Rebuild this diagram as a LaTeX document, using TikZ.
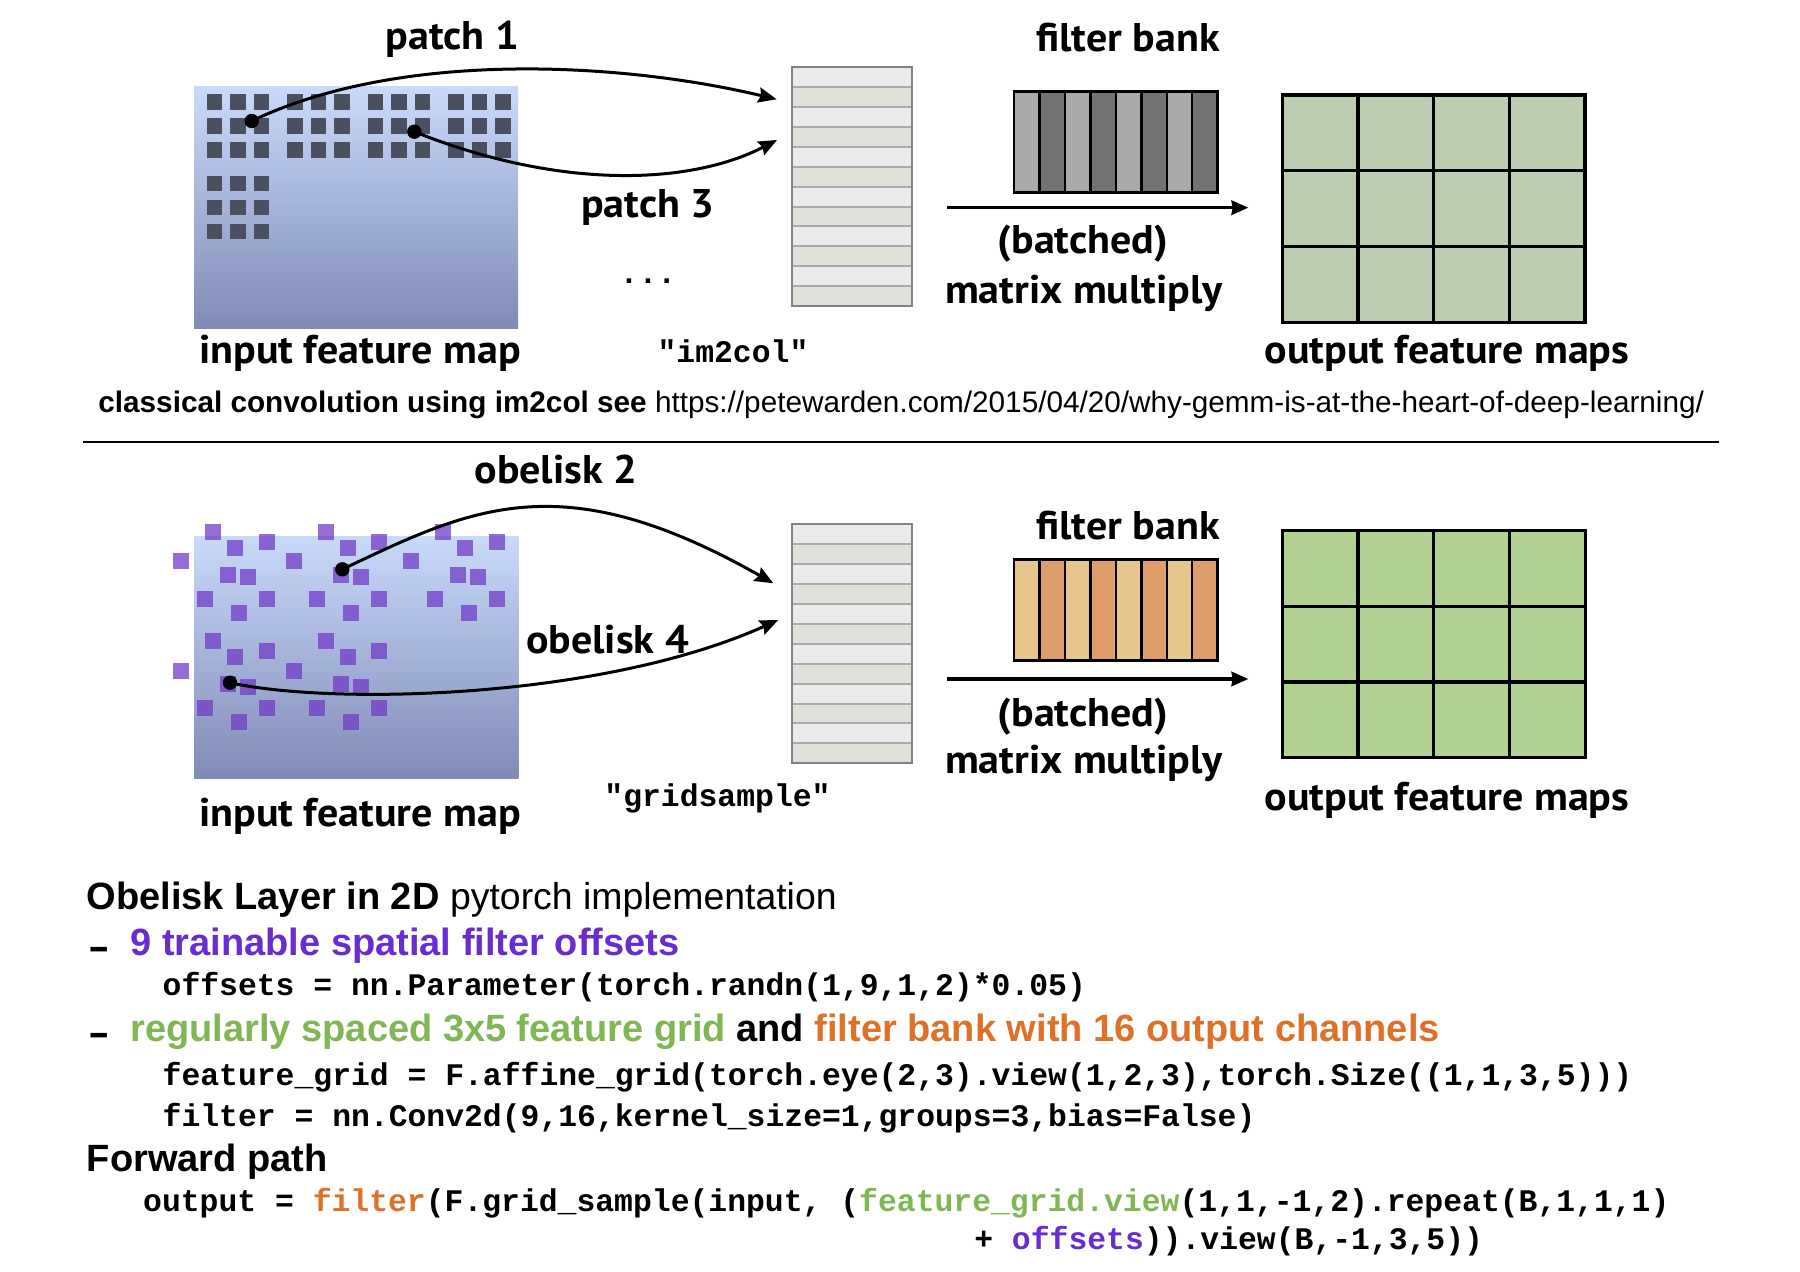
\documentclass[tikz,border=0pt]{standalone}
\usepackage{fontspec}
\usetikzlibrary{arrows.meta}
\newfontfamily\ptsans[FakeStretch=1.05]{PT Sans}
\newfontfamily\libsans{Liberation Sans}
\newfontfamily\libmono{Liberation Mono}
\newcommand\lblfont{\ptsans\bfseries\fontsize{10}{12}\selectfont}
\newcommand\codefont{\libmono\bfseries\fontsize{7.85}{9}\selectfont}
\newcommand\headfont{\libsans\fontsize{9.5}{11}\selectfont}
\newcommand\notefont{\libsans\fontsize{7.43}{9}\selectfont}
\definecolor{sqdark}{RGB}{74,80,96}
\definecolor{mapTop}{RGB}{200,218,250}
\definecolor{mapBot}{RGB}{128,138,182}
\definecolor{purpsq}{RGB}{115,60,200}
\definecolor{rowA}{RGB}{234,234,234}
\definecolor{rowB}{RGB}{224,224,218}
\definecolor{rowLine}{RGB}{170,170,170}
\definecolor{colBorder}{RGB}{130,130,130}
\definecolor{fgA}{RGB}{170,170,170}
\definecolor{fgB}{RGB}{115,115,115}
\definecolor{foA}{RGB}{230,198,140}
\definecolor{foB}{RGB}{224,157,108}
\definecolor{outTop}{RGB}{188,205,178}
\definecolor{outBot}{RGB}{178,208,146}
\definecolor{txtPurple}{RGB}{104,44,208}
\definecolor{txtGreen}{RGB}{128,182,84}
\definecolor{txtOrange}{RGB}{222,112,40}
\begin{document}
\begin{tikzpicture}[x=0.25pt,y=-0.25pt,
  lbl/.style={font=\lblfont,inner sep=0pt,anchor=base},
  codetxt/.style={font=\codefont,inner sep=0pt,anchor=base west},
  codemid/.style={font=\codefont,inner sep=0pt,anchor=base},
  headtxt/.style={font=\headfont,inner sep=0pt,anchor=base west},
  notetxt/.style={font=\notefont,inner sep=0pt,anchor=base west},
  dotnode/.style={circle,fill=black,inner sep=0pt,minimum size=3.6pt},
  curvearrow/.style={line width=0.75pt,-{Stealth[length=4.6pt,width=3.8pt,inset=0.6pt]}},
  mularrow/.style={line width=0.8pt,-{Stealth[length=4.2pt,width=3.6pt,inset=0.3pt]}},
  purpbox/.style={fill=purpsq,fill opacity=0.75},
  gridline/.style={line width=0.8pt,draw=black}
]
\useasboundingbox (0,0) rectangle (1800,1272);
\fill[white] (0,0) rectangle (1800,1272);

% ================= TOP SECTION =================
% input feature map
\shade[top color=mapTop,bottom color=mapBot] (194,87) rectangle (518,329);
\foreach \g in {0,1,2,3}
  \foreach \i in {0,1,2}
    \foreach \j in {0,1,2}
      \fill[sqdark] ({206.7+80.5*\g+23.4*\i},{94.3+24*\j}) rectangle ++(15.5,15.5);
\foreach \i in {0,1,2}
  \foreach \j in {0,1,2}
    \fill[sqdark] ({206.7+23.4*\i},{176+24*\j}) rectangle ++(15.5,15.5);

% im2col column
\foreach \k in {0,...,11}{
  \pgfmathsetmacro\yy{67.3+19.89*\k}
  \ifodd\k \fill[rowB] (792.3,\yy) rectangle ++(119.4,19.89);
  \else \fill[rowA] (792.3,\yy) rectangle ++(119.4,19.89); \fi
}
\foreach \k in {1,...,11}
  \draw[rowLine,line width=0.5pt] (792.3,{67.3+19.89*\k}) -- ++(119.4,0);
\draw[colBorder,line width=0.55pt] (792.3,67.3) rectangle (911.7,306);

% filter bank (gray)
\foreach \k in {0,...,7}{
  \ifodd\k \fill[fgB] ({1014+25.46*\k},91.7) rectangle ++(25.46,101);
  \else \fill[fgA] ({1014+25.46*\k},91.7) rectangle ++(25.46,101); \fi
}
\foreach \k in {1,...,7}
  \draw[line width=0.6pt] ({1014+25.46*\k},91.7) -- ++(0,101);
\draw[line width=0.7pt] (1014,91.7) rectangle (1217.7,192.7);

% output feature maps (top)
\fill[outTop] (1282.3,95) rectangle (1585,322.7);
\foreach \k in {1,2,3}
  \draw[gridline] ({1282.3+75.68*\k},95) -- ++(0,227.7);
\foreach \k in {1,2}
  \draw[gridline] (1282.3,{95+75.9*\k}) -- ++(302.7,0);
\draw[gridline] (1282.3,95) rectangle (1585,322.7);

% connectors (top)
\node[dotnode] (d1) at (251.7,121) {};
\node[dotnode] (d3) at (414.3,131.7) {};
\coordinate (t1) at (776.7,99.3);
\coordinate (t3) at (777,140);
\draw[curvearrow] (d1.center) .. controls (400,50) and (620,62) .. (t1);
\draw[curvearrow] (d3.center) .. controls (560,190) and (690,185) .. (t3);
\coordinate (m1s) at (946.7,207.7);
\coordinate (m1e) at (1248.3,207.7);
\draw[mularrow] (m1s) -- (m1e);

% labels (top)
\node[lbl] (lp1) at (452.5,50) {patch 1};
\node[lbl] (lp3) at (648,217.3) {patch 3};
\node[codemid] (ldots) at (648,284) {...};
\node[codemid] (lim2col) at (733,362.7) {"im2col"};
\node[lbl] (lfb1) at (1128,51.7) {filter bank};
\node[lbl] (lba1) at (1083,253.3) {(batched)};
\node[lbl] (lmm1) at (1084,303.3) {matrix multiply};
\node[lbl] (lin1) at (360,364) {input feature map};
\node[lbl] (lout1) at (1447,364) {output feature maps};
\node[notetxt] (note) at (97.6,413) {\bfseries classical convolution using im2col see \mdseries https://petewarden.com/2015/04/20/why-gemm-is-at-the-heart-of-deep-learning/};

% separator
\coordinate (sepL) at (82.7,442);
\coordinate (sepR) at (1718.6,442);
\draw[line width=0.6pt] (sepL) -- (sepR);

% ================= BOTTOM SECTION =================
\shade[top color=mapTop,bottom color=mapBot] (194.3,536.7) rectangle (518.3,779);
\foreach \ox/\oy in {205/524, 317.7/524, 435/524, 205/633.3, 317.7/633.3}
  \foreach \px/\py in {0/0, 22.3/16, 53.7/10, -31.7/29.3, 15/42.7, 35/45.3, -8.3/66.7, 53.7/66.7, 25.7/81}
    \fill[purpbox] ({\ox+\px},{\oy+\py}) rectangle ++(16,16);

% gridsample column
\foreach \k in {0,...,11}{
  \pgfmathsetmacro\yy{524.3+19.92*\k}
  \ifodd\k \fill[rowB] (792.3,\yy) rectangle ++(119.4,19.92);
  \else \fill[rowA] (792.3,\yy) rectangle ++(119.4,19.92); \fi
}
\foreach \k in {1,...,11}
  \draw[rowLine,line width=0.5pt] (792.3,{524.3+19.92*\k}) -- ++(119.4,0);
\draw[colBorder,line width=0.55pt] (792.3,524.3) rectangle (911.7,763.3);

% filter bank (orange)
\foreach \k in {0,...,7}{
  \ifodd\k \fill[foB] ({1014+25.46*\k},559.3) rectangle ++(25.46,101.4);
  \else \fill[foA] ({1014+25.46*\k},559.3) rectangle ++(25.46,101.4); \fi
}
\foreach \k in {1,...,7}
  \draw[line width=0.6pt] ({1014+25.46*\k},559.3) -- ++(0,101.4);
\draw[line width=0.7pt] (1014,559.3) rectangle (1217.7,660.7);

% output feature maps (bottom)
\fill[outBot] (1282.3,530.4) rectangle (1585.4,757.7);
\foreach \k in {1,2,3}
  \draw[gridline] ({1282.3+75.78*\k},530.4) -- ++(0,227.3);
\foreach \k in {1,2}
  \draw[gridline] (1282.3,{530.4+75.77*\k}) -- ++(303.1,0);
\draw[gridline] (1282.3,530.4) rectangle (1585.4,757.7);

% connectors (bottom)
\node[dotnode] (d2) at (342.3,569.3) {};
\node[dotnode] (d4) at (230,682.7) {};
\coordinate (t2) at (773.3,583.3);
\coordinate (t4) at (778.3,620);
\draw[curvearrow] (d2.center) .. controls (470,509) and (560,462) .. (t2);
\draw[curvearrow] (d4.center) .. controls (330,705) and (600,700) .. (t4);
\coordinate (m2s) at (946.7,679);
\coordinate (m2e) at (1248.3,679);
\draw[mularrow] (m2s) -- (m2e);

% labels (bottom)
\node[lbl] (lob2) at (556,483.3) {obelisk 2};
\node[lbl] (lob4) at (607.5,653.3) {obelisk 4};
\node[codemid] (lgs) at (717.5,806.7) {"gridsample"};
\node[lbl] (lfb2) at (1128,540) {filter bank};
\node[lbl] (lba2) at (1083,726.7) {(batched)};
\node[lbl] (lmm2) at (1084,773.3) {matrix multiply};
\node[lbl] (lin2) at (360,826.5) {input feature map};
\node[lbl] (lout2) at (1447,810.5) {output feature maps};

% ================= TEXT BLOCK =================
\node[headtxt] (h1) at (86,909) {\bfseries Obelisk Layer in 2D \mdseries\fontsize{9.35}{11}\selectfont pytorch implementation};
\node[headtxt] (dash1) at (88,959) {\bfseries\scalebox{1.7}[1]{-}};
\node[headtxt] (b1) at (129.7,955) {\bfseries\color{txtPurple}9 trainable spatial filter offsets};
\node[codetxt] (c1) at (161.9,995) {offsets = nn.Parameter(torch.randn(1,9,1,2)*0.05)};
\node[headtxt] (dash2) at (88,1045) {\bfseries\scalebox{1.7}[1]{-}};
\node[headtxt] (b2) at (129.7,1041) {\bfseries{\color{txtGreen}regularly spaced 3x5 feature grid} and {\color{txtOrange}filter bank with 16 output channels}};
\node[codetxt] (c2) at (161.9,1085) {feature\_grid = F.affine\_grid(torch.eye(2,3).view(1,2,3),torch.Size((1,1,3,5)))};
\node[codetxt] (c3) at (161.9,1126) {filter = nn.Conv2d(9,16,kernel\_size=1,groups=3,bias=False)};
\node[headtxt] (h2) at (86,1171) {\bfseries Forward path};
\node[codetxt] (c4) at (142.4,1211) {output = {\color{txtOrange}filter}(F.grid\_sample(input, ({\color{txtGreen}feature\_grid.view}(1,1,-1,2).repeat(B,1,1,1)};
\node[codetxt] (c5) at (973.5,1249) {+ {\color{txtPurple}offsets})).view(B,-1,3,5))};
\end{tikzpicture}
\end{document}
